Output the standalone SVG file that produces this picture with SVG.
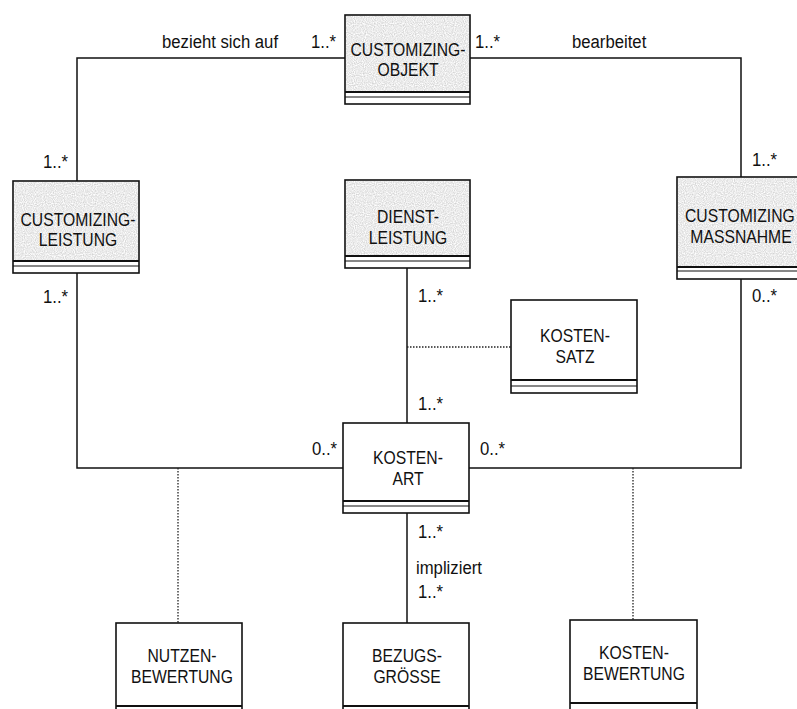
<svg xmlns="http://www.w3.org/2000/svg" width="797" height="709" viewBox="0 0 797 709">
  <style>
    .box { fill: #ffffff; stroke: #111; stroke-width: 1.6; }
    .shade { fill: #cdcdcd; stroke: none; }
    .sep { stroke: #111; stroke-width: 2.2; }
    .sep2 { stroke: #111; stroke-width: 1.2; }
    .conn { fill: none; stroke: #111; stroke-width: 1.5; }
    .dot { fill: none; stroke: #222; stroke-width: 1.3; stroke-dasharray: 1.5 1.5; }
    .nt { font-family: "Liberation Sans", Arial, sans-serif; font-size: 18.5px; fill: #111; text-anchor: middle; }
    .lb { font-family: "Liberation Sans", Arial, sans-serif; font-size: 19px; fill: #111; }
  </style>
  <defs>
    <filter id="grain" x="0" y="0" width="1" height="1">
      <feTurbulence type="fractalNoise" baseFrequency="0.9" numOctaves="1" seed="3" result="n"/>
      <feColorMatrix in="n" type="matrix" values="0 0 0 0 0  0 0 0 0 0  0 0 0 0 0  0 0 0 -1.6 1.2" result="a"/>
      <feComposite in="SourceGraphic" in2="a" operator="in"/>
    </filter>
  </defs>
  <rect width="797" height="709" fill="#ffffff"/>

  <!-- connectors -->
  <g id="connectors">
    <polyline class="conn" points="345,58 77,58 77,181"/>
    <polyline class="conn" points="470,58 741,58 741,177"/>
    <polyline class="conn" points="77,273 77,468 343,468"/>
    <polyline class="conn" points="741,279 741,468 469,468"/>
    <line class="conn" x1="407" y1="268" x2="407" y2="423"/>
    <line class="conn" x1="407" y1="513" x2="407" y2="623"/>
    <line class="dot" x1="407" y1="347" x2="511" y2="347"/>
    <line class="dot" x1="178" y1="468" x2="178" y2="623"/>
    <line class="dot" x1="633" y1="468" x2="633" y2="620"/>
  </g>

  <!-- association labels -->
  <g id="labels">
    <text class="lb" transform="translate(162,48) scale(0.88,1)">bezieht sich auf</text>
    <text class="lb" transform="translate(311,48) scale(0.88,1)">1..*</text>
    <text class="lb" transform="translate(475,48) scale(0.88,1)">1..*</text>
    <text class="lb" transform="translate(572,48) scale(0.88,1)">bearbeitet</text>
    <text class="lb" transform="translate(43,168) scale(0.88,1)">1..*</text>
    <text class="lb" transform="translate(752,166) scale(0.88,1)">1..*</text>
    <text class="lb" transform="translate(43,303) scale(0.88,1)">1..*</text>
    <text class="lb" transform="translate(418,302) scale(0.88,1)">1..*</text>
    <text class="lb" transform="translate(752,302) scale(0.88,1)">0..*</text>
    <text class="lb" transform="translate(418,410) scale(0.88,1)">1..*</text>
    <text class="lb" transform="translate(312,455) scale(0.88,1)">0..*</text>
    <text class="lb" transform="translate(480,455) scale(0.88,1)">0..*</text>
    <text class="lb" transform="translate(418,538) scale(0.88,1)">1..*</text>
    <text class="lb" transform="translate(416,574) scale(0.88,1)">impliziert</text>
    <text class="lb" transform="translate(418,598) scale(0.88,1)">1..*</text>
  </g>

  <!-- classes -->
  <g id="customizing-objekt">
    <rect class="box" x="345" y="15" width="125" height="89"/>
    <rect class="shade" x="346" y="16" width="123" height="76" filter="url(#grain)"/>
    <line class="sep" x1="345" y1="92" x2="470" y2="92"/>
    <line class="sep2" x1="345" y1="97" x2="470" y2="97"/>
    <text class="nt" transform="translate(408,56) scale(0.85,1)">CUSTOMIZING-</text>
    <text class="nt" transform="translate(408,76) scale(0.85,1)">OBJEKT</text>
  </g>

  <g id="customizing-leistung">
    <rect class="box" x="13" y="181" width="126" height="92"/>
    <rect class="shade" x="14" y="182" width="124" height="79" filter="url(#grain)"/>
    <line class="sep" x1="13" y1="261" x2="139" y2="261"/>
    <line class="sep2" x1="13" y1="266" x2="139" y2="266"/>
    <text class="nt" transform="translate(78,226) scale(0.85,1)">CUSTOMIZING-</text>
    <text class="nt" transform="translate(78,246) scale(0.85,1)">LEISTUNG</text>
  </g>

  <g id="dienstleistung">
    <rect class="box" x="345" y="180" width="125" height="88"/>
    <rect class="shade" x="346" y="181" width="123" height="75" filter="url(#grain)"/>
    <line class="sep" x1="345" y1="256" x2="470" y2="256"/>
    <line class="sep2" x1="345" y1="261" x2="470" y2="261"/>
    <text class="nt" transform="translate(408,223) scale(0.85,1)">DIENST-</text>
    <text class="nt" transform="translate(408,244) scale(0.85,1)">LEISTUNG</text>
  </g>

  <g id="customizing-massnahme">
    <rect class="box" x="677" y="177" width="130" height="102"/>
    <rect class="shade" x="678" y="178" width="128" height="89" filter="url(#grain)"/>
    <line class="sep" x1="677" y1="267" x2="807" y2="267"/>
    <line class="sep2" x1="677" y1="271" x2="807" y2="271"/>
    <text class="lb" style="font-size:18.5px" transform="translate(685,222) scale(0.85,1)">CUSTOMIZING</text>
    <text class="nt" transform="translate(741,243) scale(0.85,1)">MASSNAHME</text>
  </g>

  <g id="kostensatz">
    <rect class="box" x="511" y="300" width="126" height="93"/>
    <line class="sep" x1="511" y1="380" x2="637" y2="380"/>
    <line class="sep2" x1="511" y1="386" x2="637" y2="386"/>
    <text class="nt" transform="translate(575,342) scale(0.85,1)">KOSTEN-</text>
    <text class="nt" transform="translate(575,363) scale(0.85,1)">SATZ</text>
  </g>

  <g id="kostenart">
    <rect class="box" x="343" y="423" width="126" height="90"/>
    <line class="sep" x1="343" y1="501" x2="469" y2="501"/>
    <line class="sep2" x1="343" y1="506" x2="469" y2="506"/>
    <text class="nt" transform="translate(408,464) scale(0.85,1)">KOSTEN-</text>
    <text class="nt" transform="translate(408,485) scale(0.85,1)">ART</text>
  </g>

  <g id="nutzenbewertung">
    <rect class="box" x="116" y="623" width="126" height="92"/>
    <line class="sep" x1="116" y1="706" x2="242" y2="706"/>
    <text class="nt" transform="translate(182,662) scale(0.85,1)">NUTZEN-</text>
    <text class="nt" transform="translate(182,683) scale(0.85,1)">BEWERTUNG</text>
  </g>

  <g id="bezugsgroesse">
    <rect class="box" x="343" y="623" width="126" height="92"/>
    <line class="sep" x1="343" y1="706" x2="469" y2="706"/>
    <text class="nt" transform="translate(407,662) scale(0.85,1)">BEZUGS-</text>
    <text class="nt" transform="translate(407,683) scale(0.85,1)">GRÖSSE</text>
  </g>

  <g id="kostenbewertung">
    <rect class="box" x="570" y="620" width="127" height="95"/>
    <line class="sep" x1="570" y1="703" x2="697" y2="703"/>
    <text class="nt" transform="translate(634,659) scale(0.85,1)">KOSTEN-</text>
    <text class="nt" transform="translate(634,680) scale(0.85,1)">BEWERTUNG</text>
  </g>
</svg>
